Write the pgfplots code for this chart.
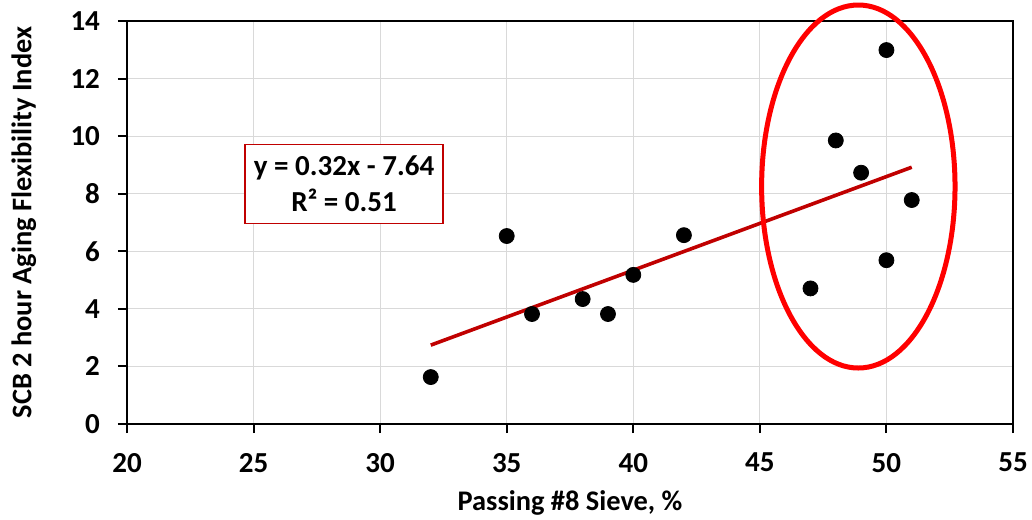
\documentclass[border=0pt]{standalone}
\usepackage{fontspec}
\setmainfont{Carlito}
\usepackage{pgfplots}
\pgfplotsset{compat=1.18}
\definecolor{trend}{HTML}{C00000}
\definecolor{gridc}{HTML}{D9D9D9}
\begin{document}
\begin{tikzpicture}
\useasboundingbox (-63.5pt,-47.5pt) rectangle (452.5pt,212pt);
\begin{axis}[
  scale only axis, width=443pt, height=201.5pt,
  xmin=20, xmax=55, ymin=0, ymax=14,
  xtick={20,25,...,55}, ytick={0,2,...,14},
  grid=major, major grid style={gridc, line width=0.6pt},
  axis line style={black, line width=1pt},
  tick align=outside, major tick length=4.5pt, tick style={black, line width=1pt},
  xtick pos=left, ytick pos=left,
  /pgf/number format/assume math mode=true,
  tick label style={font=\bfseries\fontsize{14.5}{17}\selectfont},
  xticklabel style={yshift=-6.5pt},
  yticklabel style={xshift=-5.5pt},
  xlabel={Passing \#8 Sieve, \%},
  ylabel={SCB 2 hour Aging Flexibility Index},
  label style={font=\bfseries\fontsize{14.2}{17}\selectfont},
  xlabel style={at={(axis description cs:0.5,-0.197)}, anchor=center},
  ylabel style={at={(axis description cs:-0.1165,0.5)}, anchor=center},
  clip=false,
]
\addplot[only marks, mark=*, mark size=3.75pt, black] table {
x y
32 1.63
35 6.53
36 3.82
38 4.34
39 3.82
40 5.18
42 6.56
47 4.71
48 9.85
49 8.73
50 12.99
50 5.69
51 7.78
};
\addplot[trend, line width=1.8pt] coordinates {(32,2.74) (51,8.92)};
\draw[red, line width=2.5pt] (axis cs:48.89,8.25) ellipse [x radius=48.35pt, y radius=90.75pt];
\node[draw=trend, line width=0.6pt, fill=white, minimum width=99pt, minimum height=39.5pt, align=center,
  font=\bfseries\fontsize{14.5}{18}\selectfont] at (axis cs:28.575,8.345) {y = 0.32x - 7.64\\R² = 0.51};
\end{axis}
\end{tikzpicture}
\end{document}
